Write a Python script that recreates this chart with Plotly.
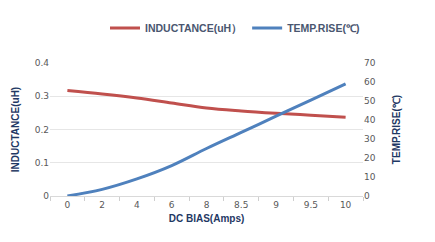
import plotly.graph_objects as go

categories = ["0", "2", "4", "6", "8", "8.5", "9", "9.5", "10"]
inductance = [0.317, 0.307, 0.295, 0.280, 0.265, 0.256, 0.249, 0.243, 0.237]
temp_rise = [0, 3.5, 9, 16, 25, 33.5, 42, 50.5, 59]
y1_ticks = [0, 0.1, 0.2, 0.3, 0.4]
y2_ticks = [0, 10, 20, 30, 40, 50, 60, 70]

RED = "#C0504D"
BLUE = "#4F81BD"
TXT = "#4A5670"
TITLE = "#1F3864"

W, H = 427, 234  # page body has an 8px margin
L, R, T, B = 42, 72, 55, 46
fig = go.Figure()
fig.add_trace(go.Scatter(x=categories, y=inductance, name="INDUCTANCE(uH）",
                         mode="lines", line=dict(color=RED, width=3, shape="spline")))
fig.add_trace(go.Scatter(x=categories, y=temp_rise, name="TEMP.RISE(℃)", yaxis="y2",
                         mode="lines", line=dict(color=BLUE, width=3, shape="spline")))

fig.update_layout(
    width=W, height=H,
    margin=dict(l=L, r=R, t=T, b=B, autoexpand=False),
    paper_bgcolor="white", plot_bgcolor="white",
    showlegend=True,
    legend=dict(orientation="h", x=227 / W, xref="container", xanchor="center",
                y=1 - 20 / H, yref="container", yanchor="middle",
                font=dict(family="Liberation Sans", size=10.5, color=TXT, weight="bold"),
                itemwidth=30),
    xaxis=dict(type="category", range=[-0.5, 8.5], tickson="boundaries", ticks="outside",
               ticklen=4, tickcolor="#CFCFCF", showline=True, linecolor="#D9D9D9",
               showgrid=False, automargin=False,
               tickfont=dict(family="DejaVu Sans", size=9, color="#595959"),
               title=dict(text="<b>DC BIAS(Amps)</b>", standoff=6,
                          font=dict(family="Liberation Sans", size=10, color=TITLE))),
    yaxis=dict(range=[0, 0.4], tickvals=y1_ticks, ticktext=["0", "0.1", "0.2", "0.3", "0.4"],
               showgrid=True, gridcolor="#E6E6E6", zeroline=False, showline=False,
               automargin=False,
               tickfont=dict(family="DejaVu Sans", size=9, color="#595959"),
               title=dict(text="<b>INDUCTANCE(uH)</b>", standoff=13,
                          font=dict(family="Liberation Sans", size=10, color=TITLE))),
    yaxis2=dict(range=[0, 70], tickvals=y2_ticks, overlaying="y", side="right",
                showgrid=False, zeroline=False, automargin=False,
                tickfont=dict(family="DejaVu Sans", size=9, color="#595959"),
                title=dict(text="<b>TEMP.RISE(℃)</b>", standoff=18,
                           font=dict(family="Liberation Sans", size=10, color=TITLE))),
)
pw, ph = W - L - R, H - T - B
xb = (420 - L) / pw
fig.add_shape(type="line", xref="paper", yref="paper", x0=xb, x1=xb,
              y0=-B / ph, y1=(ph + T - 2) / ph, line=dict(color="#BFCDDF", width=1.5))
fig.write_html("out.html")
